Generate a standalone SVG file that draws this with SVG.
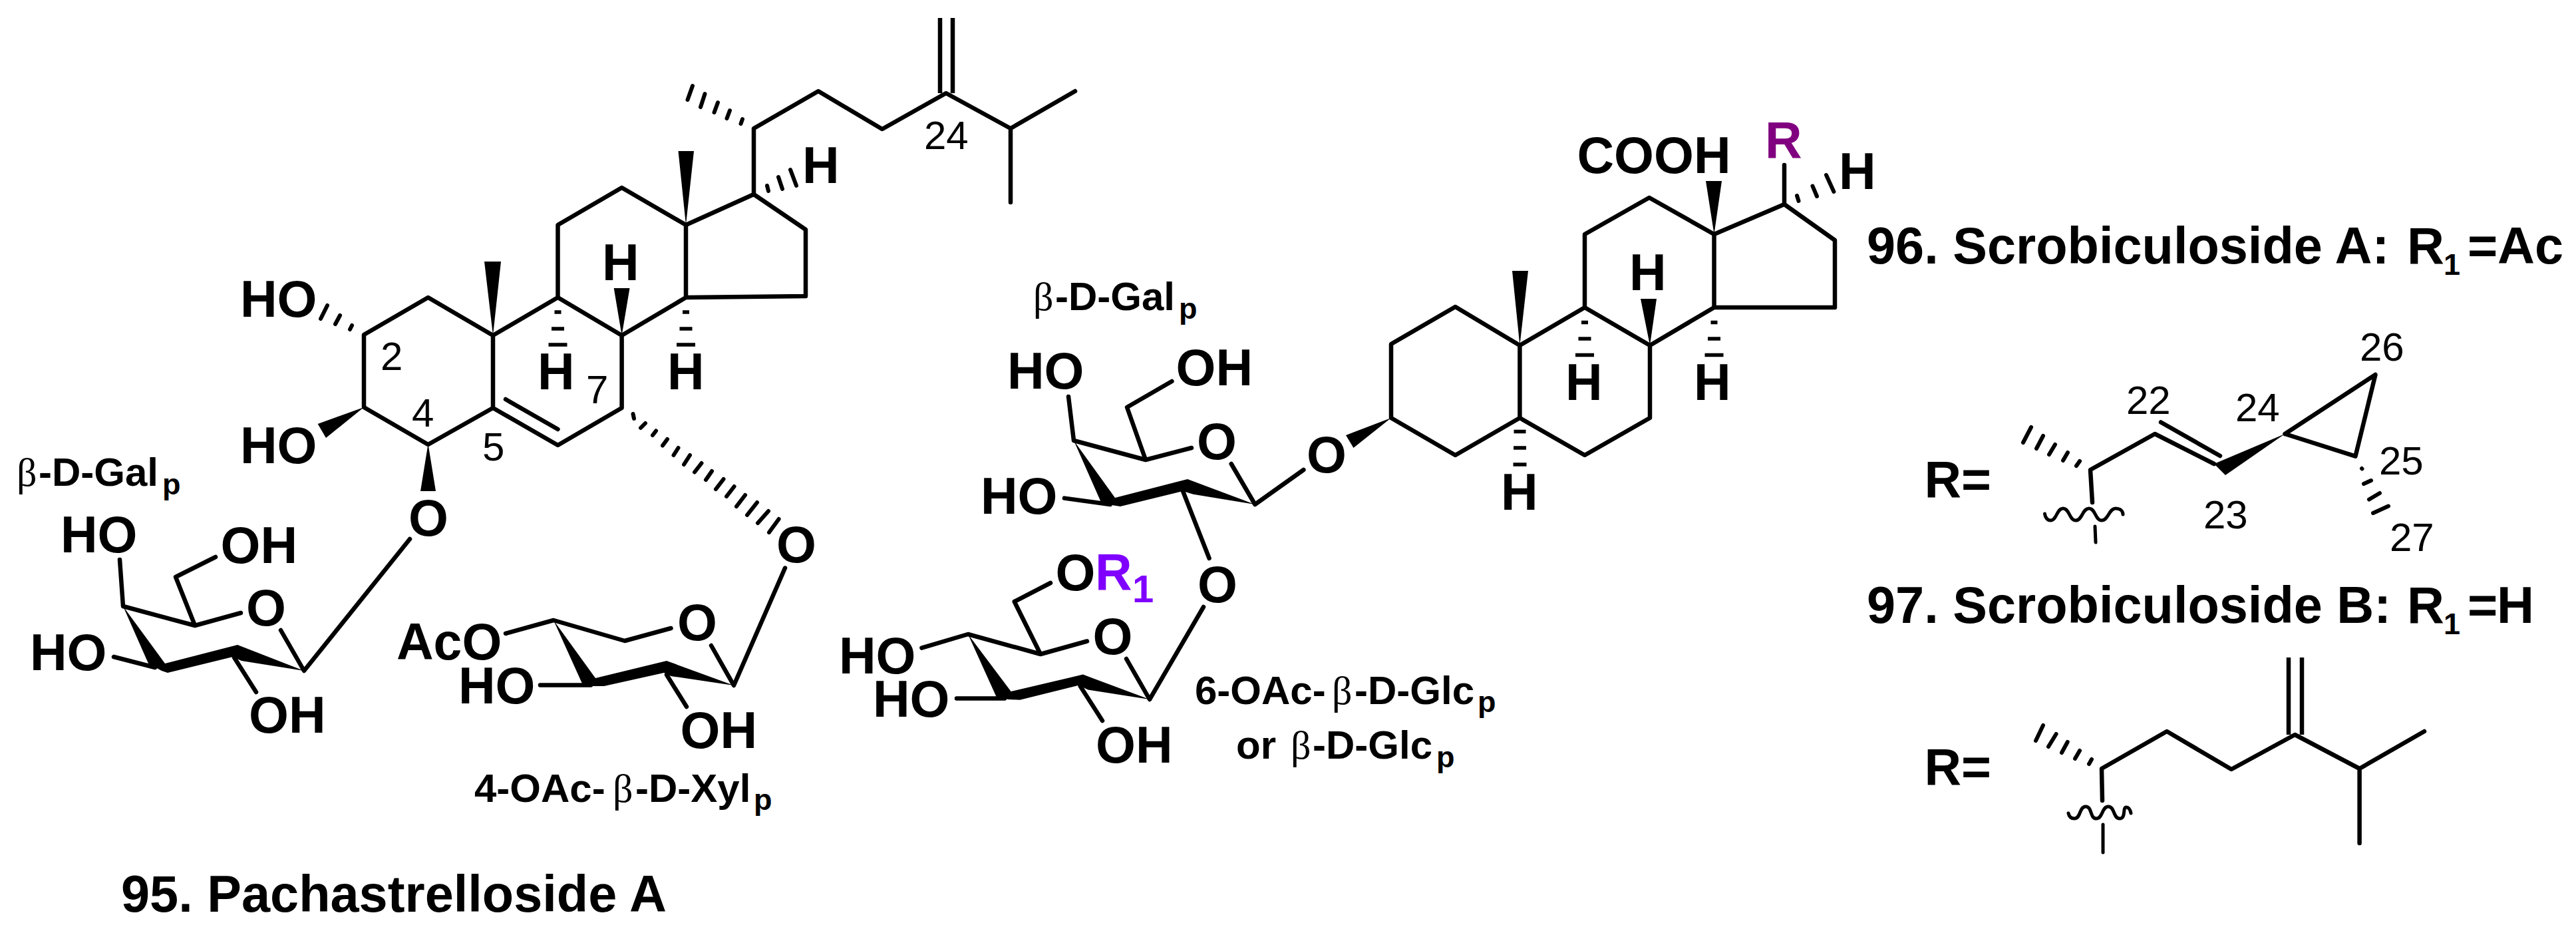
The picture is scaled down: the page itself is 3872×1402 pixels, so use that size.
<svg xmlns="http://www.w3.org/2000/svg" width="3872" height="1402" viewBox="0 0 3872 1402">
<style>
text{font-family:"Liberation Sans",Arial,sans-serif;fill:#000}
.a,.t{font-size:77px;font-weight:700}
.t{font-size:77.5px}
.l{font-size:60px;font-weight:700}
.n{font-size:60px;font-weight:400}
.b{font-family:"Liberation Serif","Times New Roman",serif;font-weight:400}
.s{font-size:45px;font-weight:700}
.bond{fill:none;stroke:#000;stroke-width:6.5;stroke-linecap:round;stroke-linejoin:round}
.flat{stroke-linecap:butt}
.hash{fill:none;stroke:#000;stroke-width:6;stroke-linecap:round}
.dash{fill:none;stroke:#000;stroke-width:5.5;stroke-linecap:butt}
.wave{fill:none;stroke:#000;stroke-width:5;stroke-linecap:round}
.w{fill:#000;stroke:none}
</style>
<rect width="3872" height="1402" fill="#fff"/>
<g id="compound-95">
<g id="bonds-95">
<path class="bond" d="M547 503L643.5 447L741 504L741 613L643.5 668L547 612ZM741 504L838.5 447L934.6 504L934.6 613L838.5 669L741 613M760 600L838.5 645M838.5 447L838.5 338L934.6 282L1031 338L1031 447L934.6 504M1031 338L1133 292L1211 345L1211 445L1031 447M1133 292L1133 193L1230 137L1326 194L1422 140L1519 193L1616 137M1519 193L1519 304"/>
<path class="bond flat" d="M1413 27L1413 140M1432 27L1432 140"/>
<path class="w" d="M1031 338L1019.5 227L1043 227ZM741 504L728 393L753 393ZM934.6 504L922.7 433L946.5 433ZM547 612L477.6 637L490 658ZM643.5 667L632 738L655 738Z"/>
<path class="hash" d="M492 459L482 479M511 474L504 487M529 489L526 495M1041 129L1033.5 150M1059.5 141L1053 161M1079 154L1073.5 169M1097 166L1092.5 178M1116 179L1113.5 186M1153 279L1155 287M1170 266L1176 284M1188 255L1197 279M951.5 622L953 629M970 636L963 643M986 647.5L981 654M1003 660L996 669.5M1019.5 673L1012.5 684M1037 684L1028 698M1054.5 696L1044 709.5M1070 708L1061 721M1087.5 720L1076 735M1103.6 731L1092 746M1120 744L1107 761M1138 755L1123 774M1155 768L1139 786M1170.6 780L1156 800"/>
<path class="dash" d="M833.5 469H843.5M829 494H848M824.5 518H852.5M1026 469H1036M1021.5 494H1040.5M1017 518H1045"/>
<path class="bond" d="M180 841L185 911L293 940L362 921M293 940L264 867L324 837M422 947L457 1008L616 810M171 987L233 1003M352 988L385 1040"/>
<path class="w" d="M185 911L248 997L357 969L457 1008L363 993L350 987L252 1011L243 1008L223 997Z"/>
<path class="bond" d="M760 952L832 932L939 963L1008.5 944M1069 970L1103 1030L1180 853.5M812 1029.5L888 1029.5M1002 1014L1032 1062"/>
<path class="w" d="M832 932L895 1019L1002 993L1103 1030L1008.5 1016L998 1011L908 1031L890 1031L875 1027Z"/>
</g>
<g id="labels-95">
<text class="a" x="361" y="476">HO</text>
<text class="a" x="361" y="696">HO</text>
<text class="l" y="730"><tspan class="b" x="25">β</tspan><tspan x="58">-D-Gal</tspan><tspan class="s" x="244" y="743">p</tspan></text>
<text class="a" x="91" y="830">HO</text>
<text class="a" x="331.5" y="846">OH</text>
<text class="a" x="370" y="940">O</text>
<text class="a" x="45" y="1007">HO</text>
<text class="a" x="374" y="1101">OH</text>
<text class="a" x="614" y="805">O</text>
<text class="a" x="596" y="991">AcO</text>
<text class="a" x="689" y="1057">HO</text>
<text class="a" x="1022.5" y="1124">OH</text>
<text class="a" x="1018" y="962">O</text>
<text class="a" x="1167" y="845">O</text>
<text class="a" x="1206" y="275">H</text>
<text class="a" x="905" y="421">H</text>
<text class="a" x="808" y="585">H</text>
<text class="a" x="1003" y="585">H</text>
<text class="n" x="572" y="556">2</text>
<text class="n" x="619" y="641">4</text>
<text class="n" x="725" y="692">5</text>
<text class="n" x="881" y="606">7</text>
<text class="n" x="1389" y="224">24</text>
<text class="l" y="1205"><tspan x="713">4-OAc-</tspan><tspan class="b" x="921">β</tspan><tspan x="955">-D-Xyl</tspan><tspan class="s" x="1133" y="1217">p</tspan></text>
<text class="t" x="182" y="1370">95. Pachastrelloside A</text>
</g>
</g>
<g id="compound-96">
<g id="bonds-96">
<path class="bond" d="M1606 596L1614 662L1722 691L1791 673M1722 691L1694 612L1761.4 573M1850.7 697L1886.4 758L1959.4 706M1600 748.6L1668.6 758M1778 738L1817.6 839"/>
<path class="w" d="M1614 662L1676 748L1785 720L1886.4 758L1793.6 742.7L1778 738L1684 761L1671 759L1656 757Z"/>
<path class="bond" d="M1579 876L1524.7 904L1564 983L1634 963.5M1385.4 973.6L1455 953L1564 983M1693 990L1728 1051L1809 912M1438 1049.4L1510 1049.4M1623.7 1031L1657 1083"/>
<path class="w" d="M1455 953L1519.6 1039L1627.8 1013.6L1728 1051L1635.4 1036.6L1621.6 1029.7L1533 1051.7L1515.5 1051L1497.6 1047Z"/>
<path class="bond" d="M2091 628L2091 517L2187.5 461L2284.4 519L2284.4 628L2187.5 684ZM2284.4 519L2382 462L2480 519L2480 628L2382 684L2284.4 628M2382 462L2382 352L2479 297L2576.5 352L2576.5 462L2480 519M2576.5 352L2682 307L2758 361L2758 462L2576.5 462M2682 307L2682 248"/>
<path class="w" d="M2284.4 519L2273 407L2297 407ZM2576.5 352L2564 272L2588 272ZM2480 519L2466 449L2490 449ZM2091 628L2023 654L2034.4 673Z"/>
<path class="dash" d="M2377 484.5H2387M2372.5 509H2391.5M2368 533.5H2396M2571.5 484.5H2581.5M2567 509H2586M2562.5 533.5H2590.5M2275.5 648.6H2293.5M2275 673H2294M2274.5 698H2294.5"/>
<path class="hash" d="M2701 294L2703.5 302M2724.5 279.6L2731 295M2745 263L2756.4 288"/>
</g>
<g id="labels-96">
<text class="l" y="466"><tspan class="b" x="1553">β</tspan><tspan x="1586">-D-Gal</tspan><tspan class="s" x="1772" y="479">p</tspan></text>
<text class="a" x="1514" y="584">HO</text>
<text class="a" x="1767.5" y="579">OH</text>
<text class="a" x="1799" y="690">O</text>
<text class="a" x="1964" y="710">O</text>
<text class="a" x="1474" y="772">HO</text>
<text class="a" x="1800" y="905">O</text>
<text class="a" x="1586.5" y="887">O</text>
<text class="a" x="1646" y="886" style="fill:#7f00ff">R<tspan x="1702" y="905" style="font-size:58px">1</tspan></text>
<text class="a" x="1642.6" y="983">O</text>
<text class="a" x="1261" y="1012">HO</text>
<text class="a" x="1312" y="1077">HO</text>
<text class="a" x="1647" y="1146">OH</text>
<text class="l" y="1058"><tspan x="1796">6-OAc-</tspan><tspan class="b" x="2002">β</tspan><tspan x="2036">-D-Glc</tspan><tspan class="s" x="2221" y="1070">p</tspan></text>
<text class="l" y="1140"><tspan x="1858">or </tspan><tspan class="b" x="1940">β</tspan><tspan x="1973">-D-Glc</tspan><tspan class="s" x="2159" y="1153">p</tspan></text>
<text class="a" x="2370.5" y="260">COOH</text>
<text class="a" x="2653" y="237" style="fill:#800080">R</text>
<text class="a" x="2764" y="283.7">H</text>
<text class="a" x="2449" y="435.5">H</text>
<text class="a" x="2353" y="601">H</text>
<text class="a" x="2546" y="601">H</text>
<text class="a" x="2256" y="766">H</text>
<text class="t" y="396"><tspan x="2806">96. Scrobiculoside A: </tspan><tspan x="3618">R</tspan><tspan class="s" x="3673" y="413">1</tspan><tspan x="3709" y="396">=</tspan><tspan x="3754">Ac</tspan></text>
</g>
</g>
<g id="side-chain-96">
<path class="bond" d="M3145 755L3142 706L3239 652L3328 697M3248 634.5L3337 685M3434.5 652L3570.5 563L3540.5 685.6L3434.5 652"/>
<path class="w" d="M3434.5 652L3328 697L3345 714Z"/>
<path class="hash" d="M3053 642L3041 665M3071 655L3061 674M3089 668L3080 683M3108 680L3101 692M3126 693L3121 700M3553 727L3564 722M3561 750.5L3577 741M3567 771L3590 760.5M3550 704L3550.5 704.5"/>
<path class="wave" d="M3073.5 772C3074 778 3078 782 3082 782C3092 782 3091 764 3101 764C3111 764 3110 782 3120 782C3130 782 3130 764 3140 764C3150 764 3149 782 3159 782C3169 782 3170 764 3180 764C3187 764 3191 768 3191 773"/>
<path class="bond" d="M3149 791L3150 815" style="stroke-width:5"/>
<text class="a" x="2892.5" y="747">R=</text>
<text class="n" x="3547" y="542">26</text>
<text class="n" x="3196" y="622">22</text>
<text class="n" x="3360" y="633">24</text>
<text class="n" x="3576" y="713">25</text>
<text class="n" x="3312" y="794">23</text>
<text class="n" x="3592" y="828">27</text>
</g>
<g id="compound-97">
<text class="t" y="936"><tspan x="2806">97. Scrobiculoside B: </tspan><tspan x="3618">R</tspan><tspan class="s" x="3673" y="953">1</tspan><tspan x="3709" y="936">=</tspan><tspan x="3753">H</tspan></text>
<text class="a" x="2892.5" y="1179">R=</text>
<path class="bond" d="M3160 1203L3159 1155L3257 1099L3354 1156L3449.5 1104L3546.6 1155L3644 1099M3546.6 1155L3546.6 1267"/>
<path class="bond flat" d="M3440 988L3440 1104M3460 988L3460 1104"/>
<path class="hash" d="M3071 1090L3060 1113M3090.6 1103L3079 1122M3107.7 1115L3099 1131M3126 1128L3119 1140M3144 1141L3140 1148"/>
<path class="wave" d="M3109 1222C3110 1227 3113 1230 3118 1230C3128 1230 3125 1212 3135 1212C3145 1212 3141 1230 3151 1230C3161 1230 3159 1212 3169 1212C3179 1212 3176 1230 3186 1230C3196 1230 3190 1213 3196 1213C3200 1213 3202 1217 3203 1222"/>
<path class="bond" d="M3161 1239L3161 1281" style="stroke-width:5"/>
</g>
</svg>
